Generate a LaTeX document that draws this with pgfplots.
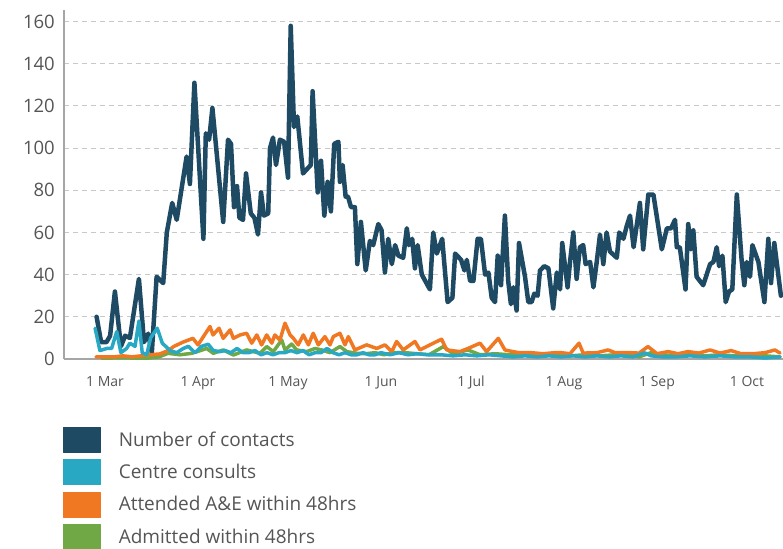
\documentclass[border=0pt]{standalone}
\usepackage{pgfplots}
\pgfplotsset{compat=1.18}
\usepackage{fontspec}
\setmainfont{Open Sans}
\definecolor{cMain}{HTML}{1E4A63}
\definecolor{cCyan}{HTML}{29A8C4}
\definecolor{cOrange}{HTML}{F07822}
\definecolor{cGreen}{HTML}{70A845}
\definecolor{cText}{HTML}{555555}
\definecolor{cAxis}{HTML}{A6A6A6}
\definecolor{cGrid}{HTML}{C8C8C8}
\begin{document}
\begin{tikzpicture}
\begin{axis}[
  name=ax,
  scale only axis,
  width=719pt, height=349pt,
  xmin=-13.67, xmax=226,
  ymin=0, ymax=165.5,
  axis x line=bottom, axis y line=left,
  axis line style={-, draw=cAxis, line width=2.2pt},
  xtick={0,31,61,92,122,153,184,214},
  xticklabels={1 Mar,1 Apr,1 May,1 Jun,1 Jul,1 Aug,1 Sep,1 Oct},
  ytick={0,20,...,160},
  major tick length=0pt,
  ymajorgrids,
  grid style={cGrid, line width=1pt, dash pattern=on 5pt off 4pt},
  /pgf/number format/assume math mode=true,
  yticklabel style={font=\fontsize{18.5}{18.5}\selectfont, text=cText, inner sep=0pt, xshift=-9pt},
  xticklabel style={font=\fontsize{14}{14}\selectfont, text=cText, inner sep=0pt, anchor=north, yshift=-17pt},
  legend style={at={(0,0)}, anchor=north west, xshift=-1.3pt, yshift=-68pt,
    draw=none, fill=none, inner sep=0pt, outer sep=0pt, row sep=7pt, column sep=18.7pt,
    font=\fontsize{19}{19}\selectfont, text=cText, nodes={inner sep=0pt}},
  legend cell align=left,
  every axis plot/.append style={line join=round, line cap=round},
]
\addplot[cMain, line width=4.5pt, forget plot] coordinates {
(-2.8,20) (-1.3,8) (0.5,8) (1.7,11) (3.3,32) (5.3,6) (6.7,11) (8.3,10) (11.3,38) (13,8)
(14.4,12) (15.6,3) (17.2,39) (19.4,36) (20.6,60) (22.4,74) (23.9,66) (27.2,96) (28.3,83) (29.8,131)
(32.8,57) (33.6,107) (34.7,104) (35.8,119) (39.4,65) (41,104) (42,102) (43,72) (44,82) (44.8,67)
(46,66) (47,88) (48.6,69) (49.8,67) (51,59) (52,79) (53,68) (54.4,69) (55,100) (56,105)
(57,92) (58.3,104) (59.7,103) (61,86) (61.9,158) (63,110) (64.1,115) (66,88) (68.6,92) (69.2,127)
(70.9,79) (72,94) (73.1,68) (74.2,84) (75.3,70) (76.4,102) (77.8,103) (78.3,84) (79.2,92) (80.2,77)
(81,77) (82,72) (83.3,72) (84.1,45) (85.3,65) (86.9,42) (88.3,56) (89.4,54) (91.1,64) (92.2,61)
(93.3,41) (94.4,57) (95.6,45) (96.7,54) (97.8,49) (99.4,48) (100.6,62) (101.3,54) (102.4,57) (103.3,43)
(104.2,54) (105.6,40) (108.3,33) (109.4,60) (110.6,50) (112.4,57) (114.2,27) (115.8,29) (116.7,50) (118.7,47)
(119.8,42) (120.6,47) (121.7,37) (122.8,37) (124.2,57) (125.3,57) (126.7,40) (127.8,41) (128.9,29) (130,27)
(130.9,49) (132,35) (133.3,68) (134.4,37) (135.3,26) (136.1,34) (137.2,23) (138,55) (140,39) (141.1,27)
(142.2,27) (143.1,31) (144.2,30) (145,42) (146.4,44) (147.8,43) (149.4,24) (150.6,41) (151.7,33) (152.4,55)
(154.2,34) (155,46) (156.1,60) (157.2,38) (158.3,53) (159.4,54) (160.2,45) (161.7,46) (162.8,34) (163.9,46)
(165,59) (166.1,45) (167.2,60) (168.3,51) (170.6,48) (171.4,60) (172.8,57) (173.9,63) (175,68) (176.2,53)
(177.3,64) (178.3,74) (179.4,52) (181.1,78) (182.8,78) (185.6,52) (187.3,62) (188.7,62) (190,66) (190.6,53)
(191.6,53) (193.5,33) (194.4,64) (195.3,52) (196.1,61) (197.2,39) (199.4,35) (201.7,45) (202.8,46) (203.9,53)
(204.7,44) (205.8,49) (206.9,27) (208,32) (209.1,33) (210.6,78) (212.2,47) (213.1,35) (213.9,46) (215,39)
(215.8,54) (217.8,46) (219.8,27) (221.1,57) (222,36) (223.1,55) (225.3,30)
};
\addplot[cGreen, line width=3.5pt, forget plot] coordinates {
(-1,0.3) (3,0.5) (8,0.5) (12,0.3) (15,0.5) (18,1) (21,2.7) (25,2) (29,2.7) (33.9,5)
(36.1,2.7) (39.4,4.3) (42.8,1.9) (47.2,4.3) (51.7,2.7) (53.9,5.9) (56.1,3.5) (58.9,9) (60,4.3) (62.2,7.1)
(63.9,4.3) (67.2,3.5) (70,5) (72.2,4.3) (75,3) (78.3,5.9) (80.6,3.5) (83.9,2.7) (87,2.5) (90,3)
(93,2) (96,3) (100,3) (104,2.5) (108,2) (112.8,5.9) (116,2.5) (121,4.3) (125,2) (130,2.5)
(135,2) (140,2) (145,1.5) (150,2) (155,1.5) (160,2) (165,1.5) (170,2) (175,2) (178,1)
(182,3) (186,2) (190,1.5) (195,2) (200,1.5) (205,2) (210,1.5) (215,2) (220,1.5) (225,1)
};
\addplot[cOrange, line width=3.5pt, forget plot] coordinates {
(-3,1) (0,1) (3,1) (6,1.5) (9,1) (12,1.5) (15,2) (18.3,2.4) (21,4) (23,6)
(26,8) (29.3,9.8) (31,6.7) (35,15.4) (36,11.4) (38,14.6) (39.4,9.8) (41.7,13.8) (42.8,9.8) (45,11.4)
(47.2,12.2) (48.9,7.5) (50.6,11.4) (52.2,6.7) (53.9,11.4) (55.6,7.5) (56.6,11.4) (58.3,9) (60,17) (61.7,11.4)
(62.8,9.8) (64.4,6.7) (66.1,11.4) (67.8,6.7) (69.4,12.2) (71.1,6.7) (73.3,10.6) (75,6.7) (76.1,10.6) (78.3,12.2)
(80,6.7) (81.1,10.6) (83.3,4.3) (87.2,6.7) (90.6,5) (93.3,6.7) (95.6,3.5) (97.2,8.3) (99.4,4.3) (103.3,8.3)
(105,4.3) (108.3,6.7) (112.2,9.4) (113.9,4.3) (118.3,3.5) (121,5) (125,7.5) (127.2,3.5) (131.1,9.8) (133.3,4.3)
(136,3.5) (138,3) (142,3) (146,2.5) (150,3) (152,3) (155,2.5) (158,7.5) (159.4,2.8) (164,3)
(167.7,4.3) (170,3) (175,3) (178,2.8) (181,5.9) (184,2.5) (187.7,3.5) (191,2.5) (194.3,3.5) (198,2.8)
(201.7,4.3) (205,2.8) (208.7,4) (212,2.5) (216,2.5) (220,3) (223.3,4.3) (225,2.8)
};
\addplot[cCyan, line width=3.5pt, forget plot] coordinates {
(-3.3,14.6) (-1.7,4) (0.6,5) (2.2,5) (3.9,13) (5.3,3) (7.2,5) (8.3,7.5) (10,6) (11.3,18)
(12.4,3) (13.9,2) (15.2,10) (17.4,14.6) (19.1,7.5) (21.7,4) (23.9,3) (26.1,5) (27.8,6) (30,3)
(32.2,6) (34.4,7) (36.1,4) (38.3,3.5) (40,4) (42,3) (44,5) (46,3) (48,3) (50,4)
(52,2) (54,3) (56,2) (58,3) (60,3) (62,4) (64,3) (66,4) (68,2) (70,3)
(72,3) (74,5) (76,3) (78,2) (80,3) (82,2) (84,2) (86,3) (88,2) (90,2)
(92,3) (95,2) (98,3) (101,2) (104,2.5) (108,2) (112,2) (116,1.5) (120,2) (124,1.5)
(128,2) (132,1.5) (136,1) (140,1.5) (144,1) (148,1.5) (152,1) (156,1.5) (160,1) (164,1.5)
(168,1) (172,1.5) (176,1) (180,2.9) (182,1.5) (186,1) (190,1) (195,1.5) (200,1) (205,1.5)
(210,1) (215,1) (220,0.5) (225,1)
};
\addlegendimage{legend image code/.code={\fill[cMain] (0pt,-12.5pt) rectangle (37pt,12.5pt);}}
\addlegendentry{Number of contacts}
\addlegendimage{legend image code/.code={\fill[cCyan] (0pt,-12.5pt) rectangle (37pt,12.5pt);}}
\addlegendentry{Centre consults}
\addlegendimage{legend image code/.code={\fill[cOrange] (0pt,-12.5pt) rectangle (37pt,12.5pt);}}
\addlegendentry{Attended A\&E within 48hrs}
\addlegendimage{legend image code/.code={\fill[cGreen] (0pt,-12.5pt) rectangle (37pt,12.5pt);}}
\addlegendentry{Admitted within 48hrs}
\end{axis}
\pgfresetboundingbox
\path ([xshift=-64pt,yshift=-189pt]ax.south west) rectangle ([yshift=10pt]ax.north east);
\end{tikzpicture}
\end{document}
